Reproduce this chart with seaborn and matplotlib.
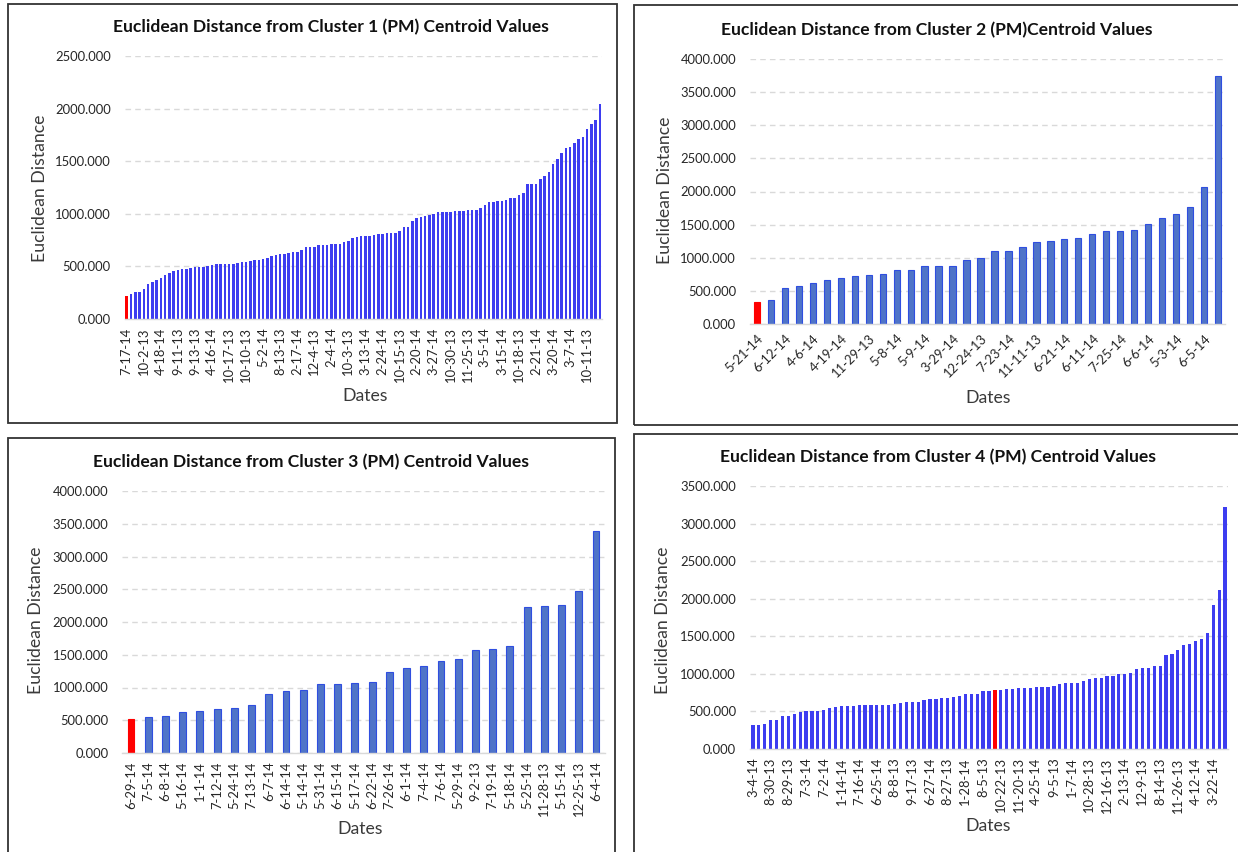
import numpy as np
import pandas as pd
import matplotlib
matplotlib.use("Agg")
import matplotlib.pyplot as plt
from matplotlib.patches import Rectangle
from matplotlib.ticker import FormatStrFormatter
import seaborn as sns

# ---------------- data ----------------
c1_labels = ["7-17-14", "10-2-13", "4-18-14", "9-11-13", "9-13-13", "4-16-14", "10-17-13",
             "10-10-13", "5-2-14", "8-13-13", "2-17-14", "12-4-13", "2-4-14", "10-3-13",
             "3-13-14", "2-24-14", "10-15-13", "2-20-14", "3-27-14", "10-30-13", "11-25-13",
             "3-5-14", "3-15-14", "10-18-13", "2-21-14", "3-20-14", "3-7-14", "10-11-13"]
c1_values = [214, 237, 259, 259, 287, 328, 347, 372, 391, 423,
             442, 461, 467, 473, 479, 486, 492, 498, 498, 508,
             517, 520, 520, 520, 524, 527, 533, 539, 546, 552,
             558, 565, 571, 577, 596, 609, 615, 621, 628, 640,
             640, 659, 685, 685, 685, 703, 703, 703, 710, 710,
             716, 735, 741, 773, 779, 790, 790, 790, 801, 807,
             810, 820, 820, 820, 835, 870, 870, 930, 959, 965,
             981, 987, 1000, 1016, 1019, 1019, 1019, 1025, 1025, 1025,
             1032, 1032, 1038, 1051, 1085, 1111, 1111, 1120, 1120, 1133,
             1149, 1149, 1177, 1193, 1282, 1282, 1282, 1329, 1361, 1396,
             1478, 1525, 1576, 1630, 1639, 1671, 1712, 1731, 1807, 1858,
             1889, 2044]

c2_labels = ["5-21-14", "6-12-14", "4-6-14", "4-19-14", "11-29-13", "5-8-14", "5-9-14",
             "3-29-14", "12-24-13", "7-23-14", "11-11-13", "6-21-14", "6-11-14", "7-25-14",
             "6-6-14", "5-3-14", "6-5-14"]
c2_values = [325, 361, 546, 576, 621, 666, 691, 721, 746, 751,
             816, 816, 882, 882, 882, 972, 1002, 1097, 1102, 1162,
             1242, 1257, 1283, 1298, 1353, 1398, 1398, 1413, 1508, 1603,
             1663, 1764, 2074, 3747]

c3_labels = ["6-29-14", "7-5-14", "6-8-14", "5-16-14", "1-1-14", "7-12-14", "5-24-14",
             "7-13-14", "6-7-14", "6-14-14", "5-14-14", "5-31-14", "6-15-14", "5-17-14",
             "6-22-14", "7-26-14", "6-1-14", "7-4-14", "7-6-14", "5-29-14", "9-2-13",
             "7-19-14", "5-18-14", "5-25-14", "11-28-13", "5-15-14", "12-25-13", "6-4-14"]
c3_values = [516, 547, 567, 628, 648, 678, 689, 739, 906, 952,
             962, 1048, 1058, 1063, 1078, 1230, 1301, 1332, 1403, 1438,
             1580, 1590, 1630, 2223, 2243, 2253, 2471, 3387]

c4_labels = ["3-4-14", "8-30-13", "8-29-13", "7-3-14", "7-2-14", "1-14-14", "7-16-14",
             "6-25-14", "8-8-13", "9-17-13", "6-27-14", "8-27-13", "1-28-14", "8-5-13",
             "10-22-13", "11-20-13", "4-25-14", "9-5-13", "1-7-14", "10-28-13", "12-16-13",
             "2-13-14", "12-9-13", "8-14-13", "11-26-13", "4-12-14", "3-22-14"]
c4_values = [315, 324, 333, 382, 386, 444, 444, 461, 492, 501,
             501, 506, 515, 541, 559, 568, 568, 568, 581, 590,
             590, 590, 590, 590, 595, 617, 621, 621, 621, 657,
             665, 670, 683, 683, 692, 701, 728, 728, 728, 772,
             772, 785, 785, 794, 794, 812, 812, 812, 821, 821,
             830, 838, 865, 874, 874, 883, 910, 936, 945, 945,
             972, 972, 998, 998, 1007, 1065, 1078, 1078, 1105, 1105,
             1247, 1260, 1318, 1384, 1402, 1442, 1460, 1548, 1921, 2116,
             3221]

titles = ["Euclidean Distance from Cluster 1 (PM) Centroid Values",
          "Euclidean Distance from Cluster 2 (PM)Centroid Values",
          "Euclidean Distance from Cluster 3 (PM) Centroid Values",
          "Euclidean Distance from Cluster 4 (PM) Centroid Values"]

# ---------------- style ----------------
W, H = 1238, 852
sns.set_theme(style="white")
plt.rcParams['font.family'] = ['Lato', 'DejaVu Sans']

fig = plt.figure(figsize=(W / 100, H / 100), dpi=100)
fig.patch.set_facecolor("white")

BRIGHT = "#3d3df0"
EXCEL = "#4f74c8"
EXCEL_EDGE = "#2f4ee0"
RED = "#ff0000"
TXT = "#3a3a3a"


def add_panel(values, labels, step, red_idx, ymax, box, title, title_xy, ylab_xy, xlab_xy,
              rot, width, face, edge, lw):
    left, right, top, bottom = box
    ax = fig.add_axes([left / W, 1 - bottom / H, (right - left) / W, (bottom - top) / H])
    n = len(values)
    df = pd.DataFrame({"idx": np.arange(n), "value": values})
    sns.barplot(data=df, x="idx", y="value", color=face, saturation=1, width=width,
                edgecolor=edge, linewidth=lw, errorbar=None, ax=ax)
    ax.patches[red_idx].set_facecolor(RED)
    ax.patches[red_idx].set_edgecolor(RED)

    ax.set_xlim(-0.5, n - 0.5)
    ax.set_ylim(0, ymax)
    ax.set_yticks(np.arange(0, ymax + 1, 500))
    ax.yaxis.set_major_formatter(FormatStrFormatter("%.3f"))
    pos = list(range(0, n, step))[:len(labels)]
    ax.set_xticks(pos)
    if rot == 45:
        ax.set_xticklabels(labels, rotation=45, ha="right", rotation_mode="anchor")
    else:
        ax.set_xticklabels(labels, rotation=90)
    ax.tick_params(axis="both", length=0, labelsize=9.4, colors="#262626")
    ax.tick_params(axis="y", pad=10)
    ax.tick_params(axis="x", pad=6)

    ax.yaxis.grid(True, color="#d9d9d9", linestyle=(0, (4, 3)), linewidth=1.0)
    ax.xaxis.grid(False)
    ax.set_axisbelow(True)
    for s in ["left", "top", "right"]:
        ax.spines[s].set_visible(False)
    ax.spines["bottom"].set_color("#d9d9d9")
    ax.spines["bottom"].set_linewidth(1.0)

    def to_ax(px, py):
        return (px - left) / (right - left), (bottom - py) / (bottom - top)

    tx, ty = to_ax(*title_xy)
    ax.set_title(title, fontsize=12.6, fontweight="bold", color="#111111", x=tx, y=ty, pad=0)
    ax.title.set_va("center")

    ax.set_ylabel("Euclidean Distance", fontsize=12.7, color=TXT)
    ax.yaxis.set_label_coords(*to_ax(*ylab_xy))
    ax.yaxis.label.set_va("center")
    ax.set_xlabel("Dates", fontsize=12.7, color=TXT)
    ax.xaxis.set_label_coords(*to_ax(*xlab_xy))
    ax.xaxis.label.set_va("center")
    return ax


add_panel(c1_values, c1_labels, 4, 0, 2500, (124.6, 602.1, 56, 319), titles[0],
          (331, 27), (40, 188), (365, 396), 90, 0.6, BRIGHT, BRIGHT, 0)
add_panel(c2_values, c2_labels, 2, 0, 4000, (750, 1225, 59, 324), titles[1],
          (937, 30), (665, 190), (988, 398), 45, 0.45, EXCEL, EXCEL_EDGE, 0.8)
add_panel(c3_values, c3_labels, 1, 0, 4000, (122.4, 604.6, 491, 753), titles[2],
          (311, 462), (36, 620), (360, 829), 90, 0.4, EXCEL, EXCEL_EDGE, 0.8)
add_panel(c4_values, c4_labels, 3, 41, 3500, (750, 1228, 486, 749), titles[3],
          (938, 457), (663, 620), (988, 826), 90, 0.55, BRIGHT, BRIGHT, 0)

# panel frames
for (x0, y0, x1, y1) in [(8, 4, 617, 423), (634, 5, 1250, 425),
                         (8, 438, 615, 870), (634, 434, 1250, 870)]:
    fig.patches.append(Rectangle((x0 / W, 1 - y1 / H), (x1 - x0) / W, (y1 - y0) / H,
                                 transform=fig.transFigure, fill=False,
                                 edgecolor="#333333", linewidth=1.3))

fig.savefig("out.png", dpi=100)
